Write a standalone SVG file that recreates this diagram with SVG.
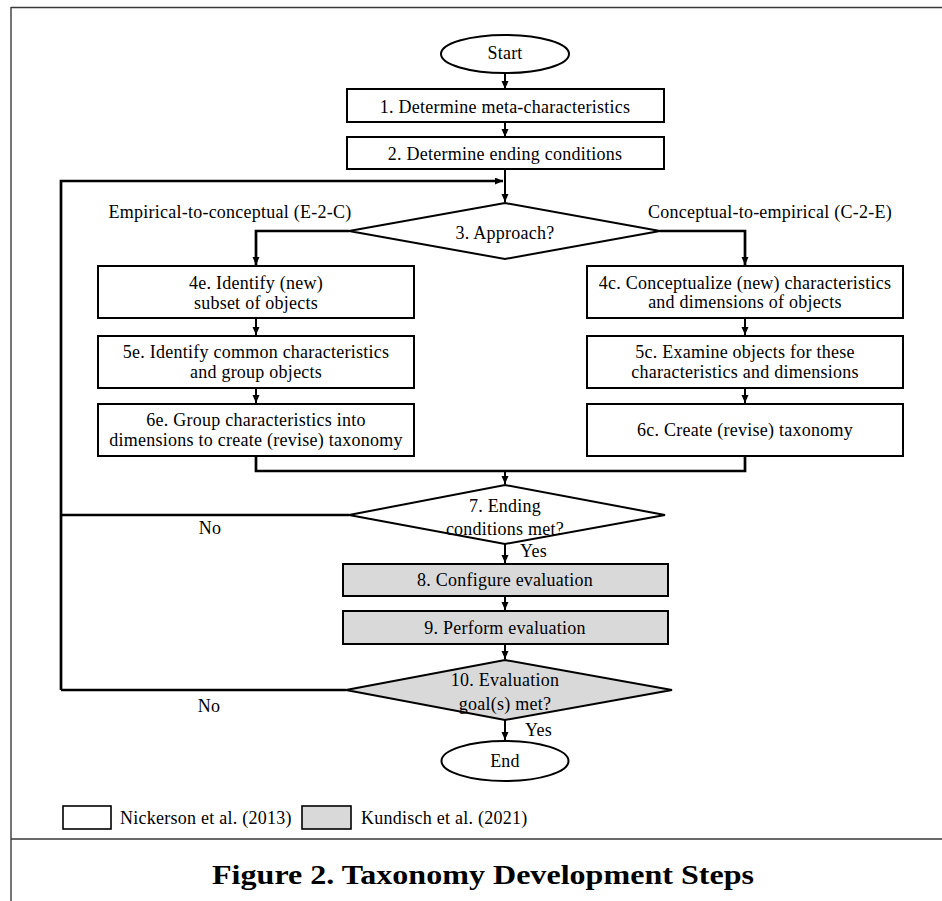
<svg xmlns="http://www.w3.org/2000/svg" width="942" height="901" viewBox="0 0 942 901">
<style>
.t{font-family:"Liberation Serif","Times New Roman",serif;font-size:18px;letter-spacing:0.25px;fill:#000}
.c{text-anchor:middle}
.box{fill:#fff;stroke:#000;stroke-width:2}
.grey{fill:#d9d9d9}
.ln{fill:none;stroke:#000;stroke-width:2}
.thick{fill:none;stroke:#000;stroke-width:2.7}
.frame{fill:none;stroke:#3a3a3a;stroke-width:1.4}
.cap{font-family:"Liberation Serif","Times New Roman",serif;font-size:27px;font-weight:bold;fill:#000}
</style>
<defs>
<marker id="ah" markerUnits="userSpaceOnUse" markerWidth="9" markerHeight="8" refX="8" refY="3.5" orient="auto">
<path d="M0,0 L8,3.5 L0,7 z" fill="#000"/>
</marker>
</defs>
<rect x="0" y="0" width="942" height="901" fill="#fff"/>
<g id="frame">
<path class="frame" d="M11,7.5 H942 M11,7 V901 M11,839 H942"/>
</g>
<g id="connectors">
<path class="ln" d="M505,73 V89" marker-end="url(#ah)"/>
<path class="ln" d="M505,122 V137" marker-end="url(#ah)"/>
<path class="ln" d="M505,169 V202" marker-end="url(#ah)"/>
<path class="thick" d="M61,690 V181 H503" marker-end="url(#ah)"/>
<path class="thick" d="M349,231 H256 V265" marker-end="url(#ah)"/>
<path class="thick" d="M660,231 H745 V265" marker-end="url(#ah)"/>
<path class="ln" d="M256,318 V335" marker-end="url(#ah)"/>
<path class="ln" d="M256,388 V403" marker-end="url(#ah)"/>
<path class="ln" d="M745,318 V335" marker-end="url(#ah)"/>
<path class="ln" d="M745,388 V403" marker-end="url(#ah)"/>
<path class="thick" d="M256,456 V471 H745 V456"/>
<path class="ln" d="M505,471 V484" marker-end="url(#ah)"/>
<path class="thick" d="M349,515 H61"/>
<path class="ln" d="M505,544 V563" marker-end="url(#ah)"/>
<path class="ln" d="M505,596 V610" marker-end="url(#ah)"/>
<path class="ln" d="M505,644 V659" marker-end="url(#ah)"/>
<path class="thick" d="M346,690 H61"/>
<path class="ln" d="M505,720 V740" marker-end="url(#ah)"/>
<text class="t c" x="230" y="217.5">Empirical-to-conceptual (E-2-C)</text>
<text class="t c" x="770" y="217.5">Conceptual-to-empirical (C-2-E)</text>
<text class="t c" x="210" y="534">No</text>
<text class="t" x="520" y="556.5">Yes</text>
<text class="t c" x="209" y="712">No</text>
<text class="t" x="525" y="736">Yes</text>
</g>
<g id="start">
<ellipse class="box" cx="505" cy="54" rx="64" ry="19"/>
<text class="t c" x="505" y="58.5">Start</text>
</g>
<g id="step1">
<rect class="box" x="347" y="89" width="317" height="33"/>
<text class="t c" x="505" y="112.5">1. Determine meta-characteristics</text>
</g>
<g id="step2">
<rect class="box" x="347" y="137" width="317" height="32"/>
<text class="t c" x="505" y="160">2. Determine ending conditions</text>
</g>
<g id="step3">
<polygon class="box" points="505,203 660,231 505,259 349,231"/>
<text class="t c" x="505" y="238.5">3. Approach?</text>
</g>
<g id="step4e">
<rect class="box" x="98" y="266" width="316" height="52"/>
<text class="t c" x="256" y="289">4e. Identify (new)</text>
<text class="t c" x="256" y="309">subset of objects</text>
</g>
<g id="step5e">
<rect class="box" x="98" y="336" width="316" height="52"/>
<text class="t c" x="256" y="357.5">5e. Identify common characteristics</text>
<text class="t c" x="256" y="377.5">and group objects</text>
</g>
<g id="step6e">
<rect class="box" x="98" y="404" width="316" height="52"/>
<text class="t c" x="256" y="426">6e. Group characteristics into</text>
<text class="t c" x="256" y="446">dimensions to create (revise) taxonomy</text>
</g>
<g id="step4c">
<rect class="box" x="587" y="266" width="316" height="52"/>
<text class="t c" x="745" y="288.5">4c. Conceptualize (new) characteristics</text>
<text class="t c" x="745" y="308">and dimensions of objects</text>
</g>
<g id="step5c">
<rect class="box" x="587" y="336" width="316" height="52"/>
<text class="t c" x="745" y="357.5">5c. Examine objects for these</text>
<text class="t c" x="745" y="377.5">characteristics and dimensions</text>
</g>
<g id="step6c">
<rect class="box" x="587" y="404" width="316" height="52"/>
<text class="t c" x="745" y="436">6c. Create (revise) taxonomy</text>
</g>
<g id="step7">
<polygon class="box" points="505,485 665,515 505,544 349,515"/>
<text class="t c" x="505" y="511.5">7. Ending</text>
<text class="t c" x="505" y="535">conditions met?</text>
</g>
<g id="step8">
<rect class="box grey" x="343" y="564" width="325" height="32"/>
<text class="t c" x="505" y="585.5">8. Configure evaluation</text>
</g>
<g id="step9">
<rect class="box grey" x="343" y="611" width="325" height="33"/>
<text class="t c" x="505" y="633.5">9. Perform evaluation</text>
</g>
<g id="step10">
<polygon class="box grey" points="505,660 672,690 505,720 346,690"/>
<text class="t c" x="505" y="686">10. Evaluation</text>
<text class="t c" x="505" y="710">goal(s) met?</text>
</g>
<g id="end">
<ellipse class="box" cx="505" cy="761" rx="63.5" ry="20"/>
<text class="t c" x="505" y="767">End</text>
</g>
<g id="legend">
<rect x="63" y="806" width="48" height="23" fill="#fff" stroke="#000" stroke-width="1.6"/>
<text class="t" x="120" y="824">Nickerson et al. (2013)</text>
<rect x="302" y="806" width="49" height="23" fill="#d9d9d9" stroke="#000" stroke-width="1.6"/>
<text class="t" x="361" y="824">Kundisch et al. (2021)</text>
</g>
<g id="caption">
<text class="cap" x="212" y="884" textLength="542" lengthAdjust="spacingAndGlyphs">Figure 2. Taxonomy Development Steps</text>
</g>
</svg>
